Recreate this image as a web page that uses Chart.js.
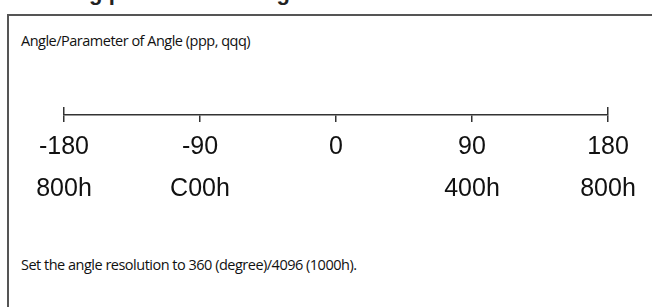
<!DOCTYPE html>
<html>
<head>
<meta charset="utf-8">
<script src="https://cdn.jsdelivr.net/npm/chart.js@4"></script>
<style>
  html, body { margin: 0; padding: 0; background: #fff; }
  body { width: 652px; height: 307px; position: relative; overflow: hidden; }
  .head { position: absolute; left: 28px; top: -20px; font: bold 22px "Liberation Sans", Arial, sans-serif; color: #222; white-space: nowrap; }
  .frame { position: absolute; left: 7px; top: 14px; width: 700px; height: 400px;
           border-left: 2px solid #555; border-top: 2px solid #555; }
  .note { position: absolute; left: 21px; font: 14.5px "Open Sans", sans-serif; letter-spacing: -0.5px; color: #111; white-space: nowrap; }
  #c { position: absolute; left: 0; top: 0; }
</style>
</head>
<body>
<div class="head">Setting parameter of Angle</div>
<div class="frame"></div>
<div class="note" style="top:31px">Angle/Parameter of Angle (ppp, qqq)</div>
<div class="note" style="top:255px">Set the angle resolution to 360 (degree)/4096 (1000h).</div>
<canvas id="c" width="652" height="307"></canvas>
<script>
// Valeurs
const angles = [-180, -90, 0, 90, 180];
const hexValues = ["800h", "C00h", "", "400h", "800h"];

new Chart(document.getElementById("c"), {
  type: "scatter",
  data: { datasets: [{ data: [], pointRadius: 0 }] },
  options: {
    responsive: false,
    animation: false,
    layout: { padding: { left: 64, right: 44, top: 107, bottom: 0 } },
    plugins: { legend: { display: false }, tooltip: { enabled: false } },
    scales: {
      y: { display: false, min: 0, max: 1 },
      x: {
        type: "linear",
        min: angles[0],
        max: angles[angles.length - 1],
        afterBuildTicks: (scale) => {
          scale.ticks = angles.map((v) => ({ value: v }));
        },
        // hauteur fixe de l'axe pour placer la ligne à y=115
        afterFit: (scale) => {
          scale.height = 192;
        },
        border: { display: true, color: "#333", width: 1.5 },
        grid: {
          // seulement les extrémités montent au-dessus de l'axe
          color: (ctx) => (ctx.tick && Math.abs(ctx.tick.value) === 180 ? "#333" : "rgba(0,0,0,0)"),
          tickColor: "#333",
          lineWidth: 1.5,
          tickLength: 7,
        },
        ticks: {
          color: "#111",
          padding: 4,
          maxRotation: 0,
          autoSkip: false,
          font: { family: "'Liberation Sans', Arial, sans-serif", size: 25, lineHeight: 1.68 },
          callback: function (value) {
            const i = angles.indexOf(value);
            return [String(value), hexValues[i]];
          },
        },
      },
    },
  },
});
</script>
</body>
</html>
